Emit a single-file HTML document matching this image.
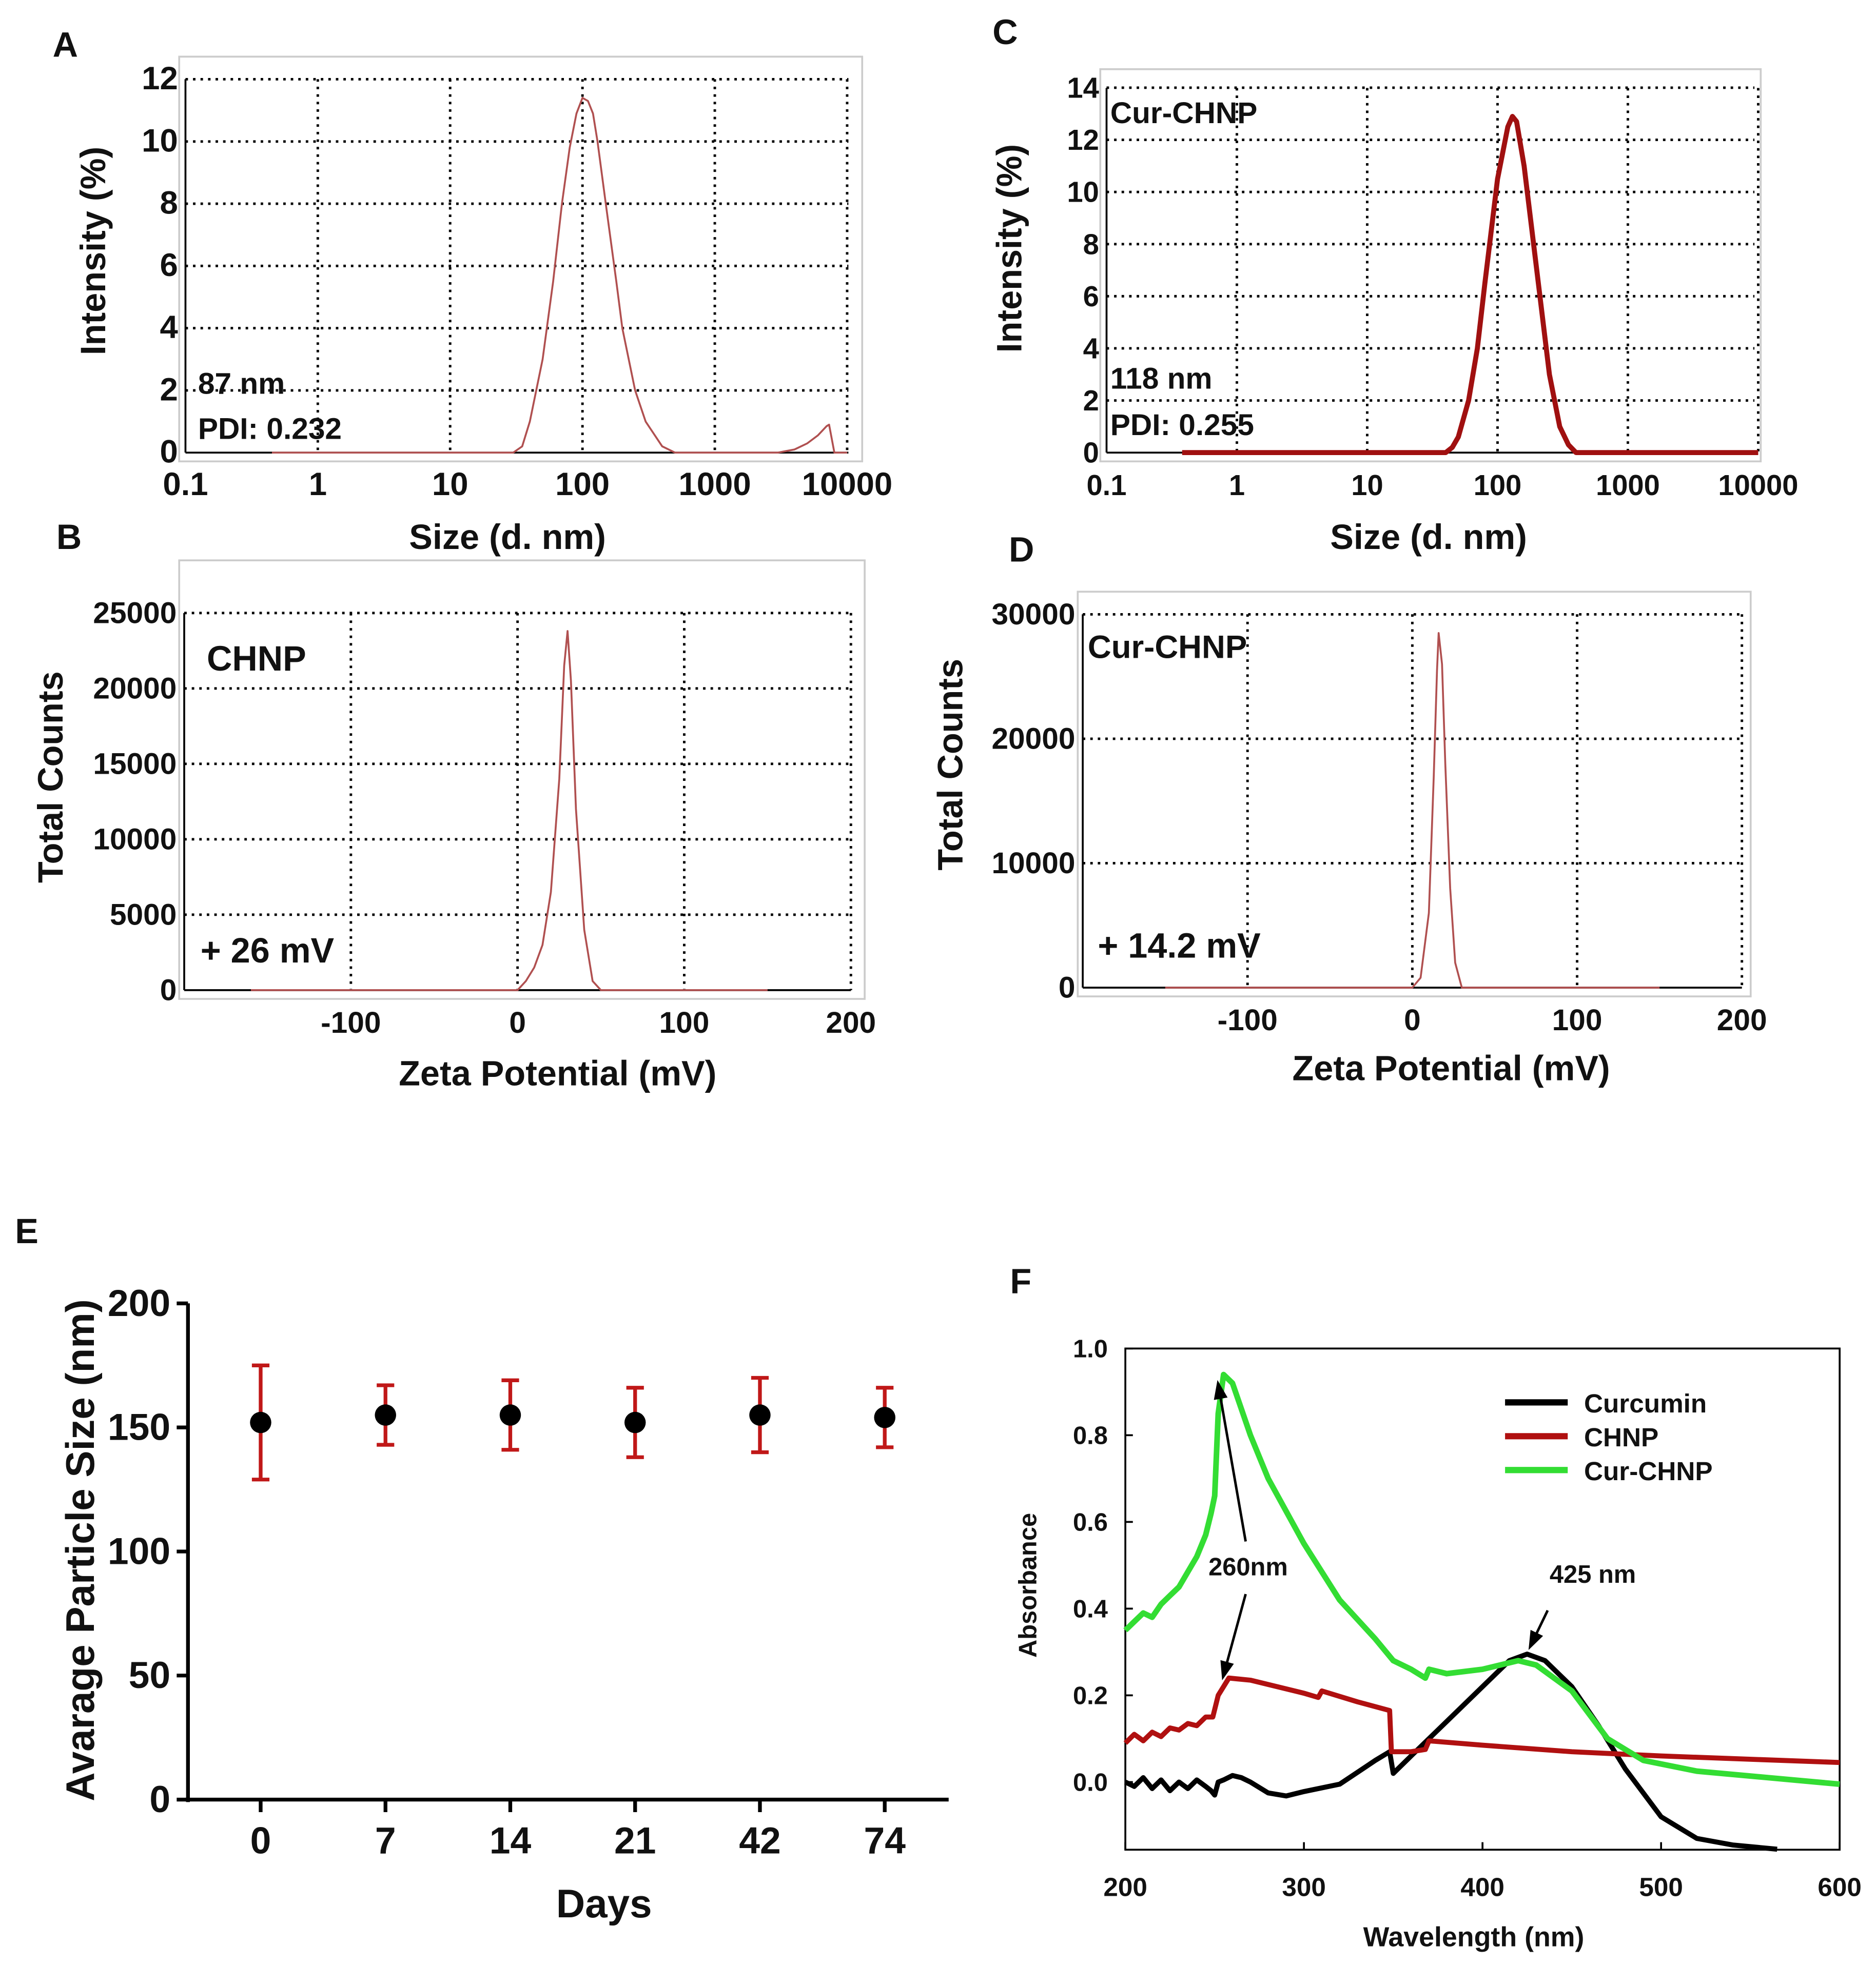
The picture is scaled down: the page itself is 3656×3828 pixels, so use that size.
<!DOCTYPE html>
<html><head><meta charset="utf-8">
<style>
html,body{margin:0;padding:0;background:#fff;}
svg{display:block;}
text{font-family:"Liberation Sans Narrow","Liberation Sans",sans-serif;font-weight:bold;fill:#111;}
.w{font-family:"Liberation Sans",sans-serif;}
</style></head>
<body>
<svg id="fig" width="3656" height="3828" viewBox="0 0 1497 1567" xmlns="http://www.w3.org/2000/svg"></svg>
<script>
// ---- Panel A data (DLS size, CHNP) ----
const aSize=[0.45,30,35,40,50,60,70,80,90,100,110,120,130,150,180,200,250,300,400,500,3000,4000,5000,6000,7000,7300,8000,10000];
const aInt=[0,0,0.2,1,3,5.5,8,9.8,10.9,11.4,11.3,10.9,10,8,5.5,4,2,1,0.2,0,0,0.1,0.3,0.55,0.85,0.9,0,0];
// ---- Panel C data (DLS size, Cur-CHNP) ----
const cSize=[0.38,40,45,50,60,70,80,100,120,130,140,160,200,250,300,350,400,10000];
const cInt=[0,0,0.2,0.6,2,4,6.5,10.5,12.5,12.9,12.7,11,7,3,1,0.3,0,0];
// ---- Panel B data (zeta, CHNP) ----
const bZeta=[-160,0,5,10,15,20,25,28,30,32,35,40,45,50,150];
const bCnt=[0,0,600,1500,3000,6500,14000,21500,23800,20500,12000,4000,600,0,0];
// ---- Panel D data (zeta, Cur-CHNP) ----
const dZeta=[-150,0,5,10,13,15,16,18,20,23,26,30,150];
const dCnt=[0,0,800,6000,17000,25500,28500,26000,18000,8000,2000,0,0];
// ---- Panel E data ----
const eDays=["0","7","14","21","42","74"];
const eMean=[152,155,155,152,155,154];
const eSD=[23,12,14,14,15,12];
// ---- Panel F data ----
const fCurW=[200,205,210,215,220,225,230,235,240,245,248,250,252,255,260,265,270,280,290,300,320,340,348,350,360,380,400,415,425,435,450,465,480,500,520,540,565];
const fCurA=[0,-0.01,0.01,-0.015,0.005,-0.02,0,-0.015,0.005,-0.01,-0.02,-0.03,0,0.005,0.015,0.01,0,-0.025,-0.032,-0.022,-0.005,0.05,0.07,0.02,0.06,0.14,0.22,0.28,0.295,0.28,0.22,0.13,0.03,-0.08,-0.13,-0.145,-0.155];
const fChW=[200,205,210,215,220,225,230,235,240,245,249,252,258,270,300,308,310,330,348,349,360,368,370,400,450,500,600];
const fChA=[0.09,0.11,0.095,0.115,0.105,0.125,0.12,0.135,0.13,0.15,0.15,0.2,0.24,0.235,0.205,0.195,0.21,0.185,0.165,0.07,0.07,0.075,0.095,0.085,0.07,0.06,0.045];
const fCcW=[200,205,210,215,220,225,230,240,245,248,250,252,255,260,270,280,300,320,340,350,360,368,370,380,400,420,430,450,470,490,520,560,600];
const fCcA=[0.35,0.37,0.39,0.38,0.41,0.43,0.45,0.52,0.57,0.62,0.66,0.85,0.94,0.92,0.8,0.7,0.55,0.42,0.33,0.28,0.26,0.24,0.26,0.25,0.26,0.28,0.27,0.21,0.1,0.05,0.025,0.01,-0.005];
const fTicksY=["0.0","0.2","0.4","0.6","0.8","1.0"];
const fTicksX=["200","300","400","500","600"];

const NS="http://www.w3.org/2000/svg";
const svg=document.getElementById('fig');
function el(tag,attrs,parent,txt){const e=document.createElementNS(NS,tag);for(const k in attrs)e.setAttribute(k,attrs[k]);if(txt!==undefined)e.textContent=txt;(parent||svg).appendChild(e);return e;}
function grp(name){const g=document.createElementNS(NS,'g');


svg.appendChild(g);return g;}
function txt(g,x,y,s,size,anchor,name,rot,cls){const t=el('text',{x:x,y:y,'font-size':size,'text-anchor':anchor||'middle'},g,s);


if(cls)t.setAttribute('class',cls);
if(rot)t.setAttribute('transform','rotate(-90 '+x+' '+y+')');return t;}
function poly(g,xs,ys,sx,sy,color,w,name){const d=xs.map((v,i)=>(i?'L':'M')+sx(v).toFixed(1)+','+sy(ys[i]).toFixed(1)).join('');
const p=el('path',{d:d,fill:'none',stroke:color,'stroke-width':w,'stroke-linejoin':'round'},g);

return p;}
function line(g,x1,y1,x2,y2,c,w,dash){const l=el('line',{x1:x1,y1:y1,x2:x2,y2:y2,stroke:c,'stroke-width':w},g);if(dash)l.setAttribute('stroke-dasharray',dash);return l;}

// DLS-style panel
function dlsPanel(o){
 const g=grp(o.name);
 el('rect',{x:o.fx0,y:o.fy0,width:o.fx1-o.fx0,height:o.fy1-o.fy0,fill:'none',stroke:'#ccc','stroke-width':1.5},g);
 const sx=o.sx, sy=o.sy;
 // grid
 o.xt.forEach(v=>{const x=sx(v);if(Math.abs(x-o.x0)>2)line(g,x,o.yTop,x,o.y0,'#000',2,'2,4');});
 o.yt.forEach(v=>{const y=sy(v);if(Math.abs(y-o.y0)>2)line(g,o.x0,y,o.x1,y,'#000',2,'2,4');});
 line(g,o.x0,o.yTop,o.x0,o.y0,'#000',1.5);
 line(g,o.x0,o.y0,o.x1,o.y0,'#000',1.5);
 o.yt.forEach((v,i)=>{txt(g,o.x0-6,sy(v)+8,o.yl[i],o.tfs,'end','y-tick-label',0,o.cls);});
 o.xt.forEach((v,i)=>{txt(g,sx(v),o.y0+34,o.xl[i],o.tfs,'middle','x-tick-label',0,o.cls);});
 poly(g,o.xs,o.ys,sx,sy,o.color,o.lw,'distribution-curve');
 txt(g,o.xTitleX,o.xTitleY,o.xTitle,28,'middle','x-axis-title',0,o.cls);
 txt(g,o.yTitleX,o.yTitleY,o.yTitle,28,'middle','y-axis-title',1,o.cls);
 txt(g,o.lx,o.ly,o.letter,28,'start','panel-letter','', 'w');
 o.notes.forEach(n=>txt(g,n[0],n[1],n[2],n[3],'start','annotation',0,o.cls));
}
const lg=Math.log10;
dlsPanel({name:'panel-a',fx0:143,fy0:45,fx1:688,fy1:368,x0:148,x1:677,y0:361,yTop:63,
 sx:v=>148+(lg(v)+1)*105.6,sy:v=>361-v*24.83,
 xt:[0.1,1,10,100,1000,10000],xl:["0.1","1","10","100","1000","10000"],
 yt:[0,2,4,6,8,10,12],yl:["0","2","4","6","8","10","12"],tfs:26,
 xs:aSize,ys:aInt,color:'#b05050',lw:1.5,
 xTitle:'Size (d. nm)',xTitleX:405,xTitleY:438,yTitle:'Intensity (%)',yTitleX:84,yTitleY:200,
 letter:'A',lx:42,ly:45,notes:[[158,314,'87 nm',24],[158,350,'PDI: 0.232',24]]});
dlsPanel({name:'panel-c',fx0:878,fy0:55,fx1:1405,fy1:368,x0:883,x1:1400,y0:361,yTop:70,
 sx:v=>883+(lg(v)+1)*104,sy:v=>361-v*20.8,
 xt:[0.1,1,10,100,1000,10000],xl:["0.1","1","10","100","1000","10000"],
 yt:[0,2,4,6,8,10,12,14],yl:["0","2","4","6","8","10","12","14"],tfs:23,cls:'w',
 xs:cSize,ys:cInt,color:'#a01010',lw:4,
 xTitle:'Size (d. nm)',xTitleX:1140,xTitleY:438,yTitle:'Intensity (%)',yTitleX:815,yTitleY:198,
 letter:'C',lx:792,ly:35,notes:[[886,98,'Cur-CHNP',24],[886,310,'118 nm',24],[886,347,'PDI: 0.255',24]]});
dlsPanel({name:'panel-b',fx0:143,fy0:447,fx1:690,fy1:797,x0:147,x1:679,y0:790,yTop:489,
 sx:v=>413+v*1.33,sy:v=>790-v*0.01204,
 xt:[-100,0,100,200],xl:["-100","0","100","200"],
 yt:[0,5000,10000,15000,20000,25000],yl:["0","5000","10000","15000","20000","25000"],tfs:24,cls:'w',
 xs:bZeta,ys:bCnt,color:'#b05050',lw:1.5,
 xTitle:'Zeta Potential (mV)',xTitleX:445,xTitleY:866,yTitle:'Total Counts',yTitleX:50,yTitleY:620,
 letter:'B',lx:45,ly:438,notes:[[165,535,'CHNP',28],[160,768,'+ 26 mV',28]]});
dlsPanel({name:'panel-d',fx0:860,fy0:472,fx1:1397,fy1:795,x0:864,x1:1390,y0:788,yTop:490,
 sx:v=>1127+v*1.315,sy:v=>788-v*0.00993,
 xt:[-100,0,100,200],xl:["-100","0","100","200"],
 yt:[0,10000,20000,30000],yl:["0","10000","20000","30000"],tfs:24,cls:'w',
 xs:dZeta,ys:dCnt,color:'#b05050',lw:1.5,
 xTitle:'Zeta Potential (mV)',xTitleX:1158,xTitleY:862,yTitle:'Total Counts',yTitleX:768,yTitleY:610,
 letter:'D',lx:805,ly:448,notes:[[868,525,'Cur-CHNP',26],[876,764,'+ 14.2 mV',28]]});
// fix B, D notes font (override class for letters)
// ---- Panel E ----
(function(){
 const g=grp('panel-e');
 const x0=150,y0=1436,yTop=1040,x1=757;
 const sy=v=>y0-v*1.98, sx=i=>208+i*99.6;
 line(g,x0,yTop,x0,y0+2,'#000',3);line(g,x0-2,y0,x1,y0,'#000',3);
 [0,50,100,150,200].forEach(v=>{line(g,x0-9,sy(v),x0,sy(v),'#000',3);txt(g,x0-14,sy(v)+10,String(v),30,'end','y-tick-label');});
 eDays.forEach((d,i)=>{line(g,sx(i),y0,sx(i),y0+10,'#000',3);txt(g,sx(i),y0+43,d,30,'middle','x-tick-label');});
 eMean.forEach((m,i)=>{const x=sx(i);
  const eb=el('g',{},g);
  
  
  line(eb,x,sy(m+eSD[i]),x,sy(m-eSD[i]),'#c01818',3);
  line(eb,x-7,sy(m+eSD[i]),x+7,sy(m+eSD[i]),'#c01818',3);
  line(eb,x-7,sy(m-eSD[i]),x+7,sy(m-eSD[i]),'#c01818',3);
  const c=el('circle',{cx:x,cy:sy(m),r:8.5,fill:'#000'},g);
  
  
 });
 txt(g,482,1530,'Days',32,'middle','x-axis-title');
 txt(g,75,1237,'Avarage Particle Size (nm)',32,'middle','y-axis-title',1,'w');
 txt(g,12,992,'E',28,'start','panel-letter',0,'w');
})();
// ---- Panel F ----
(function(){
 const g=grp('panel-f');
 const x0=898,x1=1468,yT=1076,yB=1476;
 const sx=v=>x0+(v-200)*(x1-x0)/400, sy=v=>1422-v*346;
 el('rect',{x:x0,y:yT,width:x1-x0,height:yB-yT,fill:'none',stroke:'#000','stroke-width':1.5},g);
 fTicksY.forEach(t=>{const y=sy(parseFloat(t));line(g,x0,y,x0+6,y,'#000',1.5);txt(g,x0-14,y+7,t,20,'end','y-tick-label');});
 fTicksX.forEach(t=>{const x=sx(parseFloat(t));line(g,x,yB,x,yB-6,'#000',1.5);txt(g,x,yB+37,t,21,'middle','x-tick-label');});
 poly(g,fCurW,fCurA,sx,sy,'#000',4,'curcumin-line');
 poly(g,fChW,fChA,sx,sy,'#b01010',4,'chnp-line');
 poly(g,fCcW,fCcA,sx,sy,'#33dd33',4.5,'cur-chnp-line');
 // legend
 const L=[['Curcumin','#000'],['CHNP','#b01010'],['Cur-CHNP','#33dd33']];
 L.forEach((l,i)=>{const y=1119+i*27;const le=el('g',{},g);
  
  
  line(le,1201,y,1251,y,l[1],5);txt(le,1264,y+8,l[0],21,'start','legend-label');});
 // annotations
 const ar=el('g',{stroke:'#000','stroke-width':2,fill:'#000'},g);
 
 
 function arrow(xA,yA,xB,yB){line(ar,xA,yA,xB,yB,'#000',2);const a=Math.atan2(yB-yA,xB-xA),s=12;
  el('polygon',{points:`${xB},${yB} ${xB-s*Math.cos(a-0.35)},${yB-s*Math.sin(a-0.35)} ${xB-s*Math.cos(a+0.35)},${yB-s*Math.sin(a+0.35)}`},ar);}
 arrow(994,1230,972,1104);arrow(994,1272,976,1338);arrow(1235,1285,1221,1314);
 txt(g,996,1257,'260nm',20,'middle','annotation-260nm');
 txt(g,1271,1263,'425 nm',20,'middle','annotation-425nm');
 txt(g,1176,1553,'Wavelength (nm)',22,'middle','x-axis-title');
 txt(g,827,1265,'Absorbance',20,'middle','y-axis-title',1);
 txt(g,806,1032,'F',28,'start','panel-letter',0,'w');
})();
</script>
</body></html>
